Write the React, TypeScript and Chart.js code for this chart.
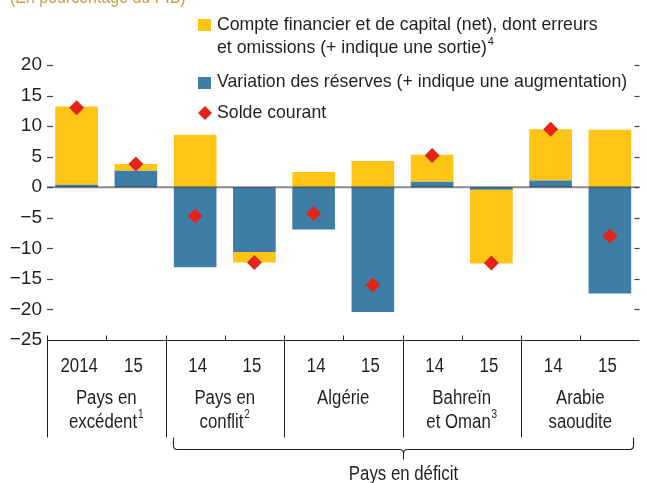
import React, { useEffect, useRef } from 'react';
import { Chart, registerables } from 'chart.js';

Chart.register(...registerables);

// ---- data ----
const yearLabels = ['2014', '15', '14', '15', '14', '15', '14', '15', '14', '15'];
const groupLines = [
  ['Pays en', 'excédent'],
  ['Pays en', 'conflit'],
  ['Algérie'],
  ['Bahreïn', 'et Oman'],
  ['Arabie', 'saoudite'],
];
const groupNotes = ['1', '2', '', '3', ''];
const reserveChange = [0.4, 2.7, -13.1, -10.6, -6.9, -20.4, 0.9, -0.4, 1.1, -17.4];
const financialAccount = [12.8, 1.1, 8.6, -1.7, 2.5, 4.3, 4.4, -12.1, 8.4, 9.4];
const currentAccount = [13.0, 3.8, -4.7, -12.3, -4.3, -16.0, 5.2, -12.4, 9.5, -8.0];
const legendFinancial = ['Compte financier et de capital (net), dont erreurs', 'et omissions (+ indique une sortie)'];
const legendFinancialNote = '4';
const legendReserves = 'Variation des réserves (+ indique une augmentation)';
const legendCurrent = 'Solde courant';
const deficitLabel = 'Pays en déficit';
const unitLabel = '(En pourcentage du PIB)';
const Y_MIN = -25;
const Y_MAX = 20;
const Y_STEP = 5;

// ---- styles ----
const YELLOW = '#FFC516';
const BLUE = '#3E7EA6';
const RED = '#E3241B';
const INK = '#231F20';
const GOLD = '#CF9B45';
const SANS = '"Liberation Sans", Arial, sans-serif';
const NARROW_X = 0.84;

function seg(ctx: CanvasRenderingContext2D, x1: number, y1: number, x2: number, y2: number) {
  ctx.beginPath();
  ctx.moveTo(x1, y1);
  ctx.lineTo(x2, y2);
  ctx.stroke();
}

function textWithNote(
  ctx: CanvasRenderingContext2D,
  text: string,
  note: string,
  cx: number,
  y: number,
  size: number,
  align: 'center' | 'left',
  sx: number,
) {
  const noteSize = Math.round(size * 0.62);
  ctx.font = `${size}px ${SANS}`;
  const w = ctx.measureText(text).width * sx;
  ctx.font = `${noteSize}px ${SANS}`;
  const nw = note ? (ctx.measureText(note).width + 1) * sx : 0;
  const x0 = align === 'center' ? cx - (w + nw) / 2 : cx;
  ctx.save();
  ctx.translate(x0, y);
  ctx.scale(sx, 1);
  ctx.textAlign = 'left';
  ctx.textBaseline = 'middle';
  ctx.font = `${size}px ${SANS}`;
  ctx.fillText(text, 0, 0);
  if (note) {
    ctx.font = `${noteSize}px ${SANS}`;
    ctx.fillText(note, w / sx + 1, -size * 0.35);
  }
  ctx.restore();
}

const decorations = {
  id: 'decorations',
  beforeDatasetDraw(chart: any, args: any) {
    if (args.index !== 2) return;
    const { ctx, chartArea } = chart;
    const y0 = chart.scales.y.getPixelForValue(0);
    ctx.save();
    ctx.strokeStyle = 'rgba(45,45,45,0.55)';
    ctx.lineWidth = 2;
    seg(ctx, chartArea.left, y0, chartArea.right, y0);
    ctx.restore();
  },
  afterDraw(chart: any) {
    const { ctx, chartArea } = chart;
    const { left, right } = chartArea;
    const xs = chart.scales.x;
    const ys = chart.scales.y;
    const cat = (right - left) / yearLabels.length;
    const axisY = Math.round(ys.getPixelForValue(Y_MIN)) + 0.5;
    ctx.save();

    // inward tick marks on both sides
    ctx.lineWidth = 1.2;
    ctx.strokeStyle = '#444';
    for (let v = Y_MIN + Y_STEP; v <= Y_MAX; v += Y_STEP) {
      const py = Math.round(ys.getPixelForValue(v)) + 0.5;
      seg(ctx, left, py, left + 6, py);
      seg(ctx, right - 5, py, right, py);
    }

    // bottom axis line
    ctx.lineWidth = 1;
    ctx.strokeStyle = INK;
    seg(ctx, left, axisY, right, axisY);

    // group dividers and mid ticks
    for (let g = 0; g < groupLines.length; g++) {
      const a = xs.getPixelForValue(2 * g);
      const b = xs.getPixelForValue(2 * g + 1);
      const edge = Math.round(a - cat / 2) + 0.5;
      seg(ctx, edge, axisY - 5, edge, axisY + 97);
      const mid = Math.round((a + b) / 2) + 0.5;
      seg(ctx, mid, axisY - 5, mid, axisY);
    }

    // year labels
    ctx.fillStyle = INK;
    yearLabels.forEach((t, i) => {
      textWithNote(ctx, t, '', xs.getPixelForValue(i) + (i % 2 === 0 ? 2.5 : -2.5), axisY + 26, 20, 'center', NARROW_X);
    });

    // group names
    groupLines.forEach((lines, g) => {
      const cx = (xs.getPixelForValue(2 * g) + xs.getPixelForValue(2 * g + 1)) / 2;
      lines.forEach((line, k) => {
        const note = k === lines.length - 1 && lines.length > 1 ? groupNotes[g] : '';
        textWithNote(ctx, line, note, cx, axisY + 58 + k * 23.5, 20, 'center', NARROW_X);
      });
    });

    // bracket for deficit countries
    const bx1 = Math.round(xs.getPixelForValue(2) - cat / 2) + 7.5;
    const bx2 = Math.round(right) - 6.5;
    const bcx = Math.round(xs.getPixelForValue(5) + cat / 2) + 0.5;
    const bTop = axisY + 97;
    const bMid = axisY + 109;
    const bTip = axisY + 119;
    ctx.lineWidth = 1.1;
    ctx.beginPath();
    ctx.moveTo(bx1, bTop);
    ctx.lineTo(bx1, bMid - 4);
    ctx.quadraticCurveTo(bx1, bMid, bx1 + 4, bMid);
    ctx.lineTo(bcx - 4, bMid);
    ctx.quadraticCurveTo(bcx, bMid, bcx, bMid + 4);
    ctx.lineTo(bcx, bTip);
    ctx.moveTo(bcx, bMid + 4);
    ctx.quadraticCurveTo(bcx, bMid, bcx + 4, bMid);
    ctx.lineTo(bx2 - 4, bMid);
    ctx.quadraticCurveTo(bx2, bMid, bx2, bMid - 4);
    ctx.lineTo(bx2, bTop);
    ctx.stroke();

    textWithNote(ctx, deficitLabel, '', bcx, axisY + 134, 20, 'center', NARROW_X);

    // unit title (cut at top)
    ctx.save();
    ctx.fillStyle = GOLD;
    ctx.translate(10, 3);
    ctx.scale(NARROW_X, 1);
    ctx.textAlign = 'left';
    ctx.textBaseline = 'alphabetic';
    ctx.font = `19px ${SANS}`;
    ctx.fillText(unitLabel, 0, 0);
    ctx.restore();

    // legend
    ctx.fillStyle = YELLOW;
    ctx.fillRect(198, 19, 13, 12);
    ctx.fillStyle = BLUE;
    ctx.fillRect(198, 77, 13, 12);
    ctx.fillStyle = RED;
    ctx.beginPath();
    ctx.moveTo(205, 106);
    ctx.lineTo(212, 113);
    ctx.lineTo(205, 120);
    ctx.lineTo(198, 113);
    ctx.closePath();
    ctx.fill();
    ctx.fillStyle = INK;
    textWithNote(ctx, legendFinancial[0], '', 217, 25, 17.7, 'left', 1);
    textWithNote(ctx, legendFinancial[1], legendFinancialNote, 217, 48, 17.7, 'left', 1);
    textWithNote(ctx, legendReserves, '', 217, 82, 17.7, 'left', 1);
    textWithNote(ctx, legendCurrent, '', 217, 113, 17.7, 'left', 1);

    ctx.restore();
  },
};

export default function App() {
  const ref = useRef<HTMLCanvasElement | null>(null);
  useEffect(() => {
    if (!ref.current) return;
    const chart = new Chart(ref.current, {
      type: 'bar',
      data: {
        labels: yearLabels,
        datasets: [
          {
            type: 'bar',
            label: legendReserves,
            data: reserveChange,
            backgroundColor: BLUE,
            borderWidth: 0,
            barPercentage: 0.72,
            categoryPercentage: 1,
            stack: 's',
          },
          {
            type: 'bar',
            label: legendFinancial.join(' '),
            data: financialAccount,
            backgroundColor: YELLOW,
            borderWidth: 0,
            barPercentage: 0.72,
            categoryPercentage: 1,
            stack: 's',
          },
          {
            type: 'line',
            label: legendCurrent,
            data: currentAccount,
            showLine: false,
            pointStyle: 'rectRot',
            pointRadius: 7.5,
            pointBorderWidth: 0,
            pointBackgroundColor: RED,
            pointBorderColor: RED,
            order: -1,
          } as any,
        ],
      },
      options: {
        responsive: false,
        animation: false,
        devicePixelRatio: 1,
        layout: { padding: { top: 65, bottom: 143, left: 0, right: 0 } },
        plugins: { legend: { display: false }, tooltip: { enabled: false } },
        scales: {
          x: { display: false, stacked: true, offset: true },
          y: {
            stacked: true,
            min: Y_MIN,
            max: Y_MAX,
            grid: { display: false, drawTicks: false },
            border: { display: false },
            ticks: {
              stepSize: Y_STEP,
              padding: 5,
              color: INK,
              font: { size: 19, family: SANS },
              callback: (v: any) => String(v).replace('-', '\u2212'),
            },
            afterFit: (s: any) => {
              s.width = 47;
            },
          },
        },
      },
      plugins: [decorations],
    });
    return () => chart.destroy();
  }, []);
  return (
    <div style={{ position: 'fixed', left: 0, top: 0, width: 647, height: 483, background: '#fff' }}>
      <canvas ref={ref} width={647} height={483} style={{ width: 647, height: 483, display: 'block' }} />
    </div>
  );
}
